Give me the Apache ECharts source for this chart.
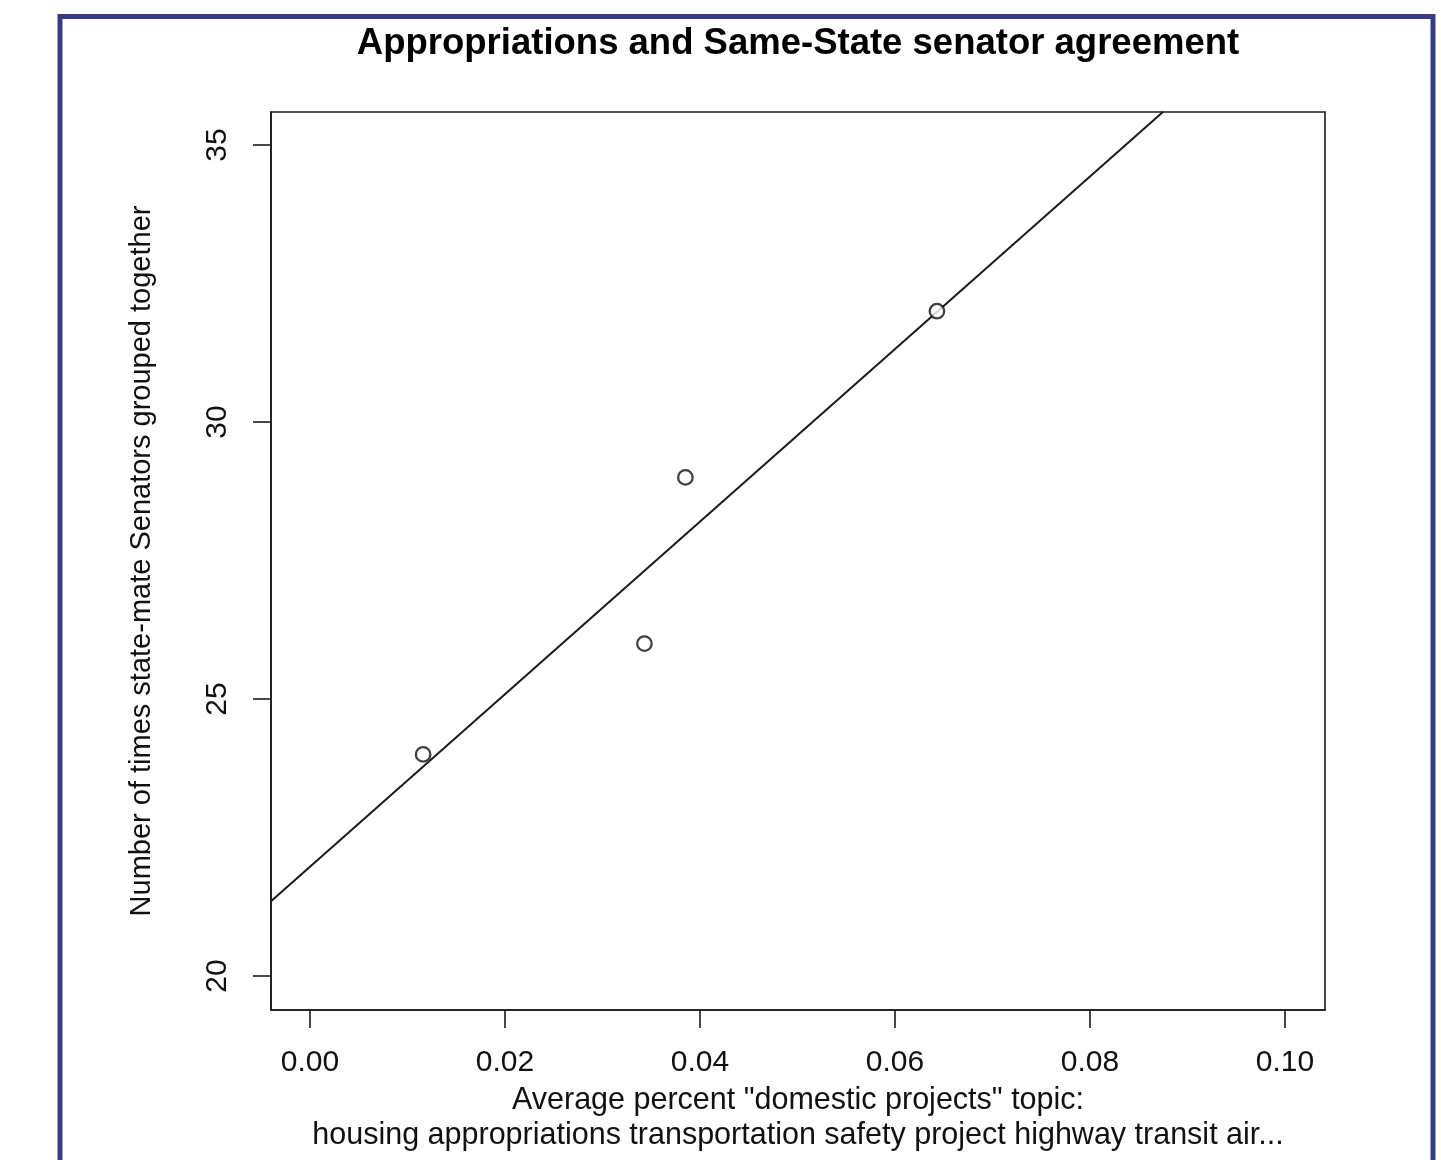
<!DOCTYPE html>
<html>
<head>
<meta charset="utf-8">
<script src="https://cdn.jsdelivr.net/npm/echarts@6/dist/echarts.min.js"></script>
<style>
html,body{margin:0;padding:0;background:#fff;}
#chart{width:1441px;height:1160px;}
</style>
</head>
<body>
<div id="chart"></div>
<script>
// Data
var pctDomestic = [0.0116, 0.0343, 0.0385, 0.0643];
var sameStateCount = [24, 26, 29, 32];
// fitted regression line (abline), endpoints
var fitLineX = [-0.004, 0.0875];
var fitLineY = [21.35, 35.6];
var xTicks = [0, 0.02, 0.04, 0.06, 0.08, 0.10];
var yTicks = [20, 25, 30, 35];

var titleText = 'Appropriations and Same-State senator agreement';
var xTitle = 'Average percent "domestic projects" topic:\nhousing appropriations transportation safety project highway transit air...';
var yTitle = 'Number of times state-mate Senators grouped together';

var points = pctDomestic.map(function (x, i) { return [x, sameStateCount[i]]; });
var fitLine = fitLineX.map(function (x, i) { return [x, fitLineY[i]]; });

var FONT = '"Liberation Sans", Arial, Helvetica, sans-serif';
var INK = '#1a1a1a';

var chart = echarts.init(document.getElementById('chart'), null, {renderer: 'canvas'});
chart.setOption({
  animation: false,
  backgroundColor: '#fff',
  title: {
    text: titleText,
    left: 798,
    top: 25,
    textAlign: 'center',
    padding: 0,
    textStyle: {fontFamily: FONT, fontWeight: 'bold', fontSize: 36.5, color: '#000'}
  },
  graphic: [{
    type: 'rect',
    silent: true,
    shape: {x: 60, y: 16.5, width: 1373, height: 1300},
    style: {fill: 'none', stroke: '#363b85', lineWidth: 5}
  }],
  grid: {
    left: 271, top: 112, width: 1054, height: 898,
    show: true, borderColor: INK, borderWidth: 1.6, backgroundColor: 'transparent'
  },
  xAxis: {
    type: 'value',
    min: -0.004, max: 0.1041,
    splitLine: {show: false},
    axisLine: {show: true, onZero: false, lineStyle: {color: INK, width: 1.6}},
    axisTick: {show: true, inside: false, length: 18, customValues: xTicks, lineStyle: {color: INK, width: 1.6}},
    axisLabel: {
      show: true, margin: 38, customValues: xTicks,
      fontFamily: FONT, fontSize: 30, color: '#111',
      formatter: function (v) { return v.toFixed(2); }
    },
    name: xTitle,
    nameLocation: 'middle',
    nameGap: 72,
    nameTextStyle: {fontFamily: FONT, fontSize: 30.5, color: '#111', lineHeight: 35, verticalAlign: 'top'}
  },
  yAxis: {
    type: 'value',
    min: 19.386, max: 35.596,
    splitLine: {show: false},
    axisLine: {show: true, onZero: false, lineStyle: {color: INK, width: 1.6}},
    axisTick: {show: true, inside: false, length: 18, customValues: yTicks, lineStyle: {color: INK, width: 1.6}},
    axisLabel: {
      show: true, margin: 38, rotate: 90, customValues: yTicks,
      fontFamily: FONT, fontSize: 30, color: '#111'
    },
    name: yTitle,
    nameLocation: 'middle',
    nameRotate: 90,
    nameGap: 115,
    nameTextStyle: {fontFamily: FONT, fontSize: 29, color: '#111'}
  },
  series: [{
    type: 'line',
    data: fitLine,
    symbol: 'none',
    clip: true,
    lineStyle: {color: INK, width: 2},
    z: 2
  }, {
    type: 'scatter',
    data: points,
    symbol: 'circle',
    symbolSize: 14.5,
    itemStyle: {color: '#fff', borderColor: '#111', borderWidth: 2.3},
    z: 3
  }]
});
</script>
</body>
</html>
